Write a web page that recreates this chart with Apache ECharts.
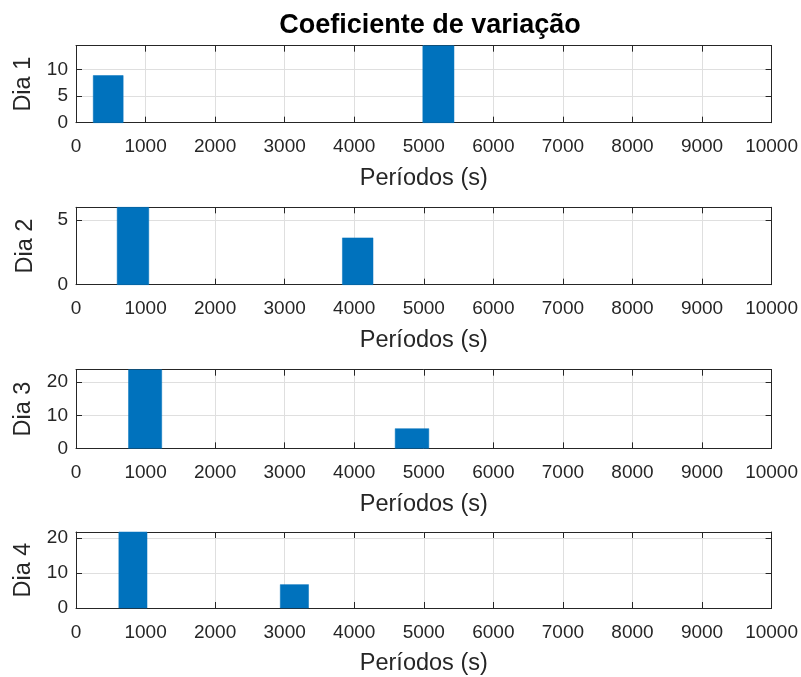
<!DOCTYPE html>
<html><head><meta charset="utf-8">
<script src="https://cdn.jsdelivr.net/npm/echarts@6/dist/echarts.min.js"></script>
<style>html,body{margin:0;padding:0;background:#fff}#c{width:801px;height:677px}</style>
</head><body><div id="c"></div>
<script>
// Data (bin start, bin end, value) per day
const day1Start = [248, 4986];
const day1End   = [678, 5434];
const day1Vals  = [8.87, 14.5];
const day2Start = [592, 3830];
const day2End   = [1046, 4270];
const day2Vals  = [6.0, 3.63];
const day3Start = [755, 4589];
const day3End   = [1232, 5072];
const day3Vals  = [23.8, 5.96];
const day4Start = [616, 2937];
const day4End   = [1021, 3343];
const day4Vals  = [21.7, 6.67];
const dayNames  = ['Dia 1', 'Dia 2', 'Dia 3', 'Dia 4'];
const yMax      = [14.5, 6, 23.8, 21.7];
const yInterval = [5, 5, 10, 10];
const xTitle = 'Períodos (s)';
const chartTitle = 'Coeficiente de variação';

const days = [
  [day1Start, day1End, day1Vals],
  [day2Start, day2End, day2Vals],
  [day3Start, day3End, day3Vals],
  [day4Start, day4End, day4Vals]
];

const FONT = 'Liberation Sans, Arial, sans-serif';
const TXT = '#262626';
const AX = '#262626';
const GRIDC = '#dfdfdf';
const grids = [
  {top: 45.67, height: 77},
  {top: 207.33, height: 77.33},
  {top: 369.67, height: 78.67},
  {top: 532, height: 78}
];
const plain = v => String(v);

const option = {
  animation: false,
  backgroundColor: '#fff',
  title: {
    text: chartTitle, left: 425, top: 7, textAlign: 'center',
    textStyle: {fontFamily: FONT, fontSize: 27, fontWeight: 'bold', color: '#000'}
  },
  grid: [], xAxis: [], yAxis: [], series: []
};

days.forEach((d, i) => {
  option.grid.push({left: 76, right: 27, top: grids[i].top, height: grids[i].height, containLabel: false});
  option.xAxis.push({
    type: 'value', gridIndex: i, min: 0, max: 10000, interval: 1000, position: 'bottom',
    name: xTitle, nameLocation: 'middle', nameGap: 44,
    nameTextStyle: {fontFamily: FONT, fontSize: 23.5, color: TXT},
    axisLine: {show: true, onZero: false, lineStyle: {color: AX, width: 1}},
    axisTick: {show: true, inside: true, length: 6, lineStyle: {color: AX}},
    axisLabel: {fontFamily: FONT, fontSize: 19, color: TXT, margin: 15, formatter: plain},
    splitLine: {show: true, lineStyle: {color: GRIDC, width: 1}}
  });
  option.xAxis.push({
    type: 'value', gridIndex: i, min: 0, max: 10000, interval: 1000, position: 'top',
    axisLine: {show: true, onZero: false, lineStyle: {color: AX, width: 1}},
    axisTick: {show: true, inside: true, length: 6, lineStyle: {color: AX}},
    axisLabel: {show: false}, splitLine: {show: false}
  });
  option.yAxis.push({
    type: 'value', gridIndex: i, min: 0, max: yMax[i], interval: yInterval[i], position: 'left',
    name: dayNames[i], nameLocation: 'middle', nameGap: 38, nameRotate: 90,
    nameTextStyle: {fontFamily: FONT, fontSize: 23.5, color: TXT},
    axisLine: {show: true, onZero: false, lineStyle: {color: AX, width: 1}},
    axisTick: {show: true, inside: true, length: 6, lineStyle: {color: AX}},
    axisLabel: {fontFamily: FONT, fontSize: 19, color: TXT, margin: 8, showMaxLabel: false, formatter: plain},
    splitLine: {show: true, lineStyle: {color: GRIDC, width: 1}}
  });
  option.yAxis.push({
    type: 'value', gridIndex: i, min: 0, max: yMax[i], interval: yInterval[i], position: 'right',
    axisLine: {show: true, onZero: false, lineStyle: {color: AX, width: 1}},
    axisTick: {show: true, inside: true, length: 6, lineStyle: {color: AX}},
    axisLabel: {show: false}, splitLine: {show: false}
  });
  const data = d[0].map((s, k) => [s, d[1][k], d[2][k]]);
  option.series.push({
    type: 'custom', xAxisIndex: 2 * i, yAxisIndex: 2 * i, z: 1,
    encode: {x: [0, 1], y: 2},
    data: data,
    renderItem: function (params, api) {
      const p0 = api.coord([api.value(0), api.value(2)]);
      const p1 = api.coord([api.value(1), 0]);
      return {
        type: 'rect',
        shape: {x: p0[0], y: p0[1], width: p1[0] - p0[0], height: p1[1] - p0[1]},
        style: {fill: '#0072BD', stroke: '#0072BD', lineWidth: 0.5}
      };
    }
  });
});

const chart = echarts.init(document.getElementById('c'), null, {renderer: 'canvas'});
chart.setOption(option);
</script></body></html>
